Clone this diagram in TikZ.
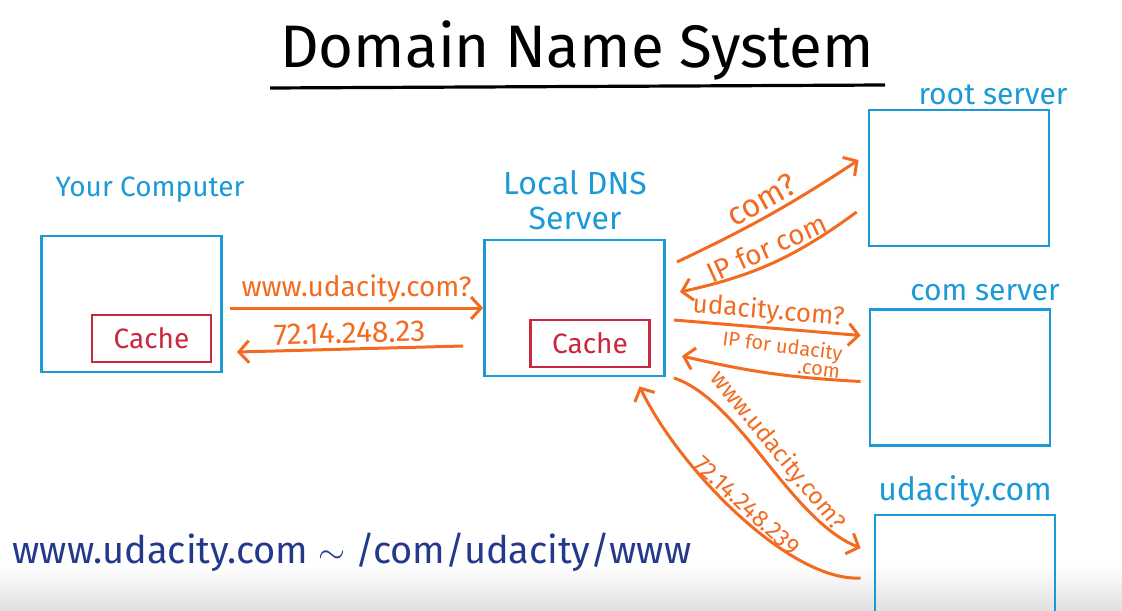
\documentclass[tikz,border=0pt]{standalone}
\usepackage{fontspec}
\setmainfont{Fira Sans}
\usetikzlibrary{arrows.meta}
\definecolor{boxblue}{HTML}{1B9AD6}
\definecolor{cachered}{HTML}{C9283E}
\definecolor{msgorange}{HTML}{F26B21}
\definecolor{inkblue}{HTML}{24398C}
\begin{document}
\begin{tikzpicture}[x=0.5pt,y=-0.5pt,
    server/.style={draw=boxblue,line width=1.4pt,minimum width=90pt,minimum height=68pt,inner sep=0pt},
    cache/.style={draw=cachered,line width=1.4pt,text=cachered,minimum width=59.5pt,minimum height=23.5pt,font=\fontsize{14}{16}\selectfont},
    lbl/.style={text=boxblue,font=\fontsize{15}{17.5}\selectfont},
    msg/.style={draw=msgorange,line width=1.5pt,-{Straight Barb[length=5pt,width=11pt]}},
    msgtxt/.style={text=msgorange,font=\fontsize{13}{13}\selectfont,sloped,above,inner sep=2pt}]
  \useasboundingbox (0,0) rectangle (1122,610);
  \clip (0,0) rectangle (1122,610);
  % grey edge at the bottom of the board
  \shade[top color=white,bottom color=black!12] (0,565) rectangle (1122,610);

  % title
  \node[font=\fontsize{30}{34}\selectfont] (title) at (577,50) {Domain Name System};
  \draw[line width=1.6pt] (270,88) -- (885,85);

  % your computer
  \node[server] (comp) at (131.5,304) {};
  \node[cache] (compcache) at (151.5,338.5) {Cache};
  \node[lbl,font=\fontsize{14}{16}\selectfont] (complbl) at (150,190) {Your Computer};

  % local DNS server
  \node[server] (dns) at (574.5,308) {};
  \node[cache] (dnscache) at (590,343.5) {Cache};
  \node[lbl,align=center,font=\fontsize{16}{17.5}\selectfont] (dnslbl) at (575,200) {Local DNS\\Server};

  % the three servers on the right
  \node[server] (root) at (959,178) {};
  \node[lbl] (rootlbl) at (993,95) {root server};
  \node[server] (com) at (960,377.5) {};
  \node[lbl] (comlbl) at (985,293) {com server};
  \node[server] (uda) at (965,583) {};
  \node[lbl,font=\fontsize{16}{17.5}\selectfont] (udalbl) at (965,491) {udacity.com};

  % computer <-> local DNS
  \draw[msg] ([shift={(7,4)}]comp.east) -- node[msgtxt,font=\fontsize{14}{14}\selectfont] {www.udacity.com?} (dns.west);
  \draw[msg] ([shift={(-20,38)}]dns.west) -- node[msgtxt,font=\fontsize{15}{15}\selectfont] {72.14.248.23} ([shift={(14,48)}]comp.east);

  % local DNS <-> root server
  \draw[msg] ([shift={(11,-46)}]dns.east) to[bend right=4] node[msgtxt,font=\fontsize{16}{16}\selectfont] {com?} ([shift={(-9,-18)}]root.west);
  \draw[msg] ([shift={(-11,34)}]root.west) to[bend left=12] node[msgtxt,font=\fontsize{14}{14}\selectfont] {IP for com} ([shift={(14,-16)}]dns.east);

  % local DNS <-> com server
  \draw[msg] ([shift={(8,12)}]dns.east) -- node[msgtxt,inner sep=1pt] {udacity.com?} ([shift={(-8,-42)}]com.west);
  \draw[msg] ([shift={(-8,4)}]com.west) to[bend left=5] node[msgtxt,align=right,font=\fontsize{10}{9}\selectfont,inner sep=1pt,pos=0.45] {IP for udacity\\.com} ([shift={(16,48)}]dns.east);

  % local DNS <-> udacity.com
  \draw[msg] ([shift={(8,70)}]dns.east) .. controls (740,400) and (790,520) .. node[msgtxt,font=\fontsize{12}{12}\selectfont,inner sep=1pt] {www.udacity.com?} ([shift={(-13,-35)}]uda.west);
  \draw[msg] ([shift={(-13,-5)}]uda.west) .. controls (790,582) and (680,470) .. node[msgtxt,font=\fontsize{12}{12}\selectfont,inner sep=1pt] {72.14.248.239} ([shift={(65,9)}]dns.south);

  % name read backwards
  \node[text=inkblue,font=\fontsize{19}{21}\selectfont] (rev) at (352,552) {www.udacity.com $\sim$ /com/udacity/www};
\end{tikzpicture}
\end{document}
